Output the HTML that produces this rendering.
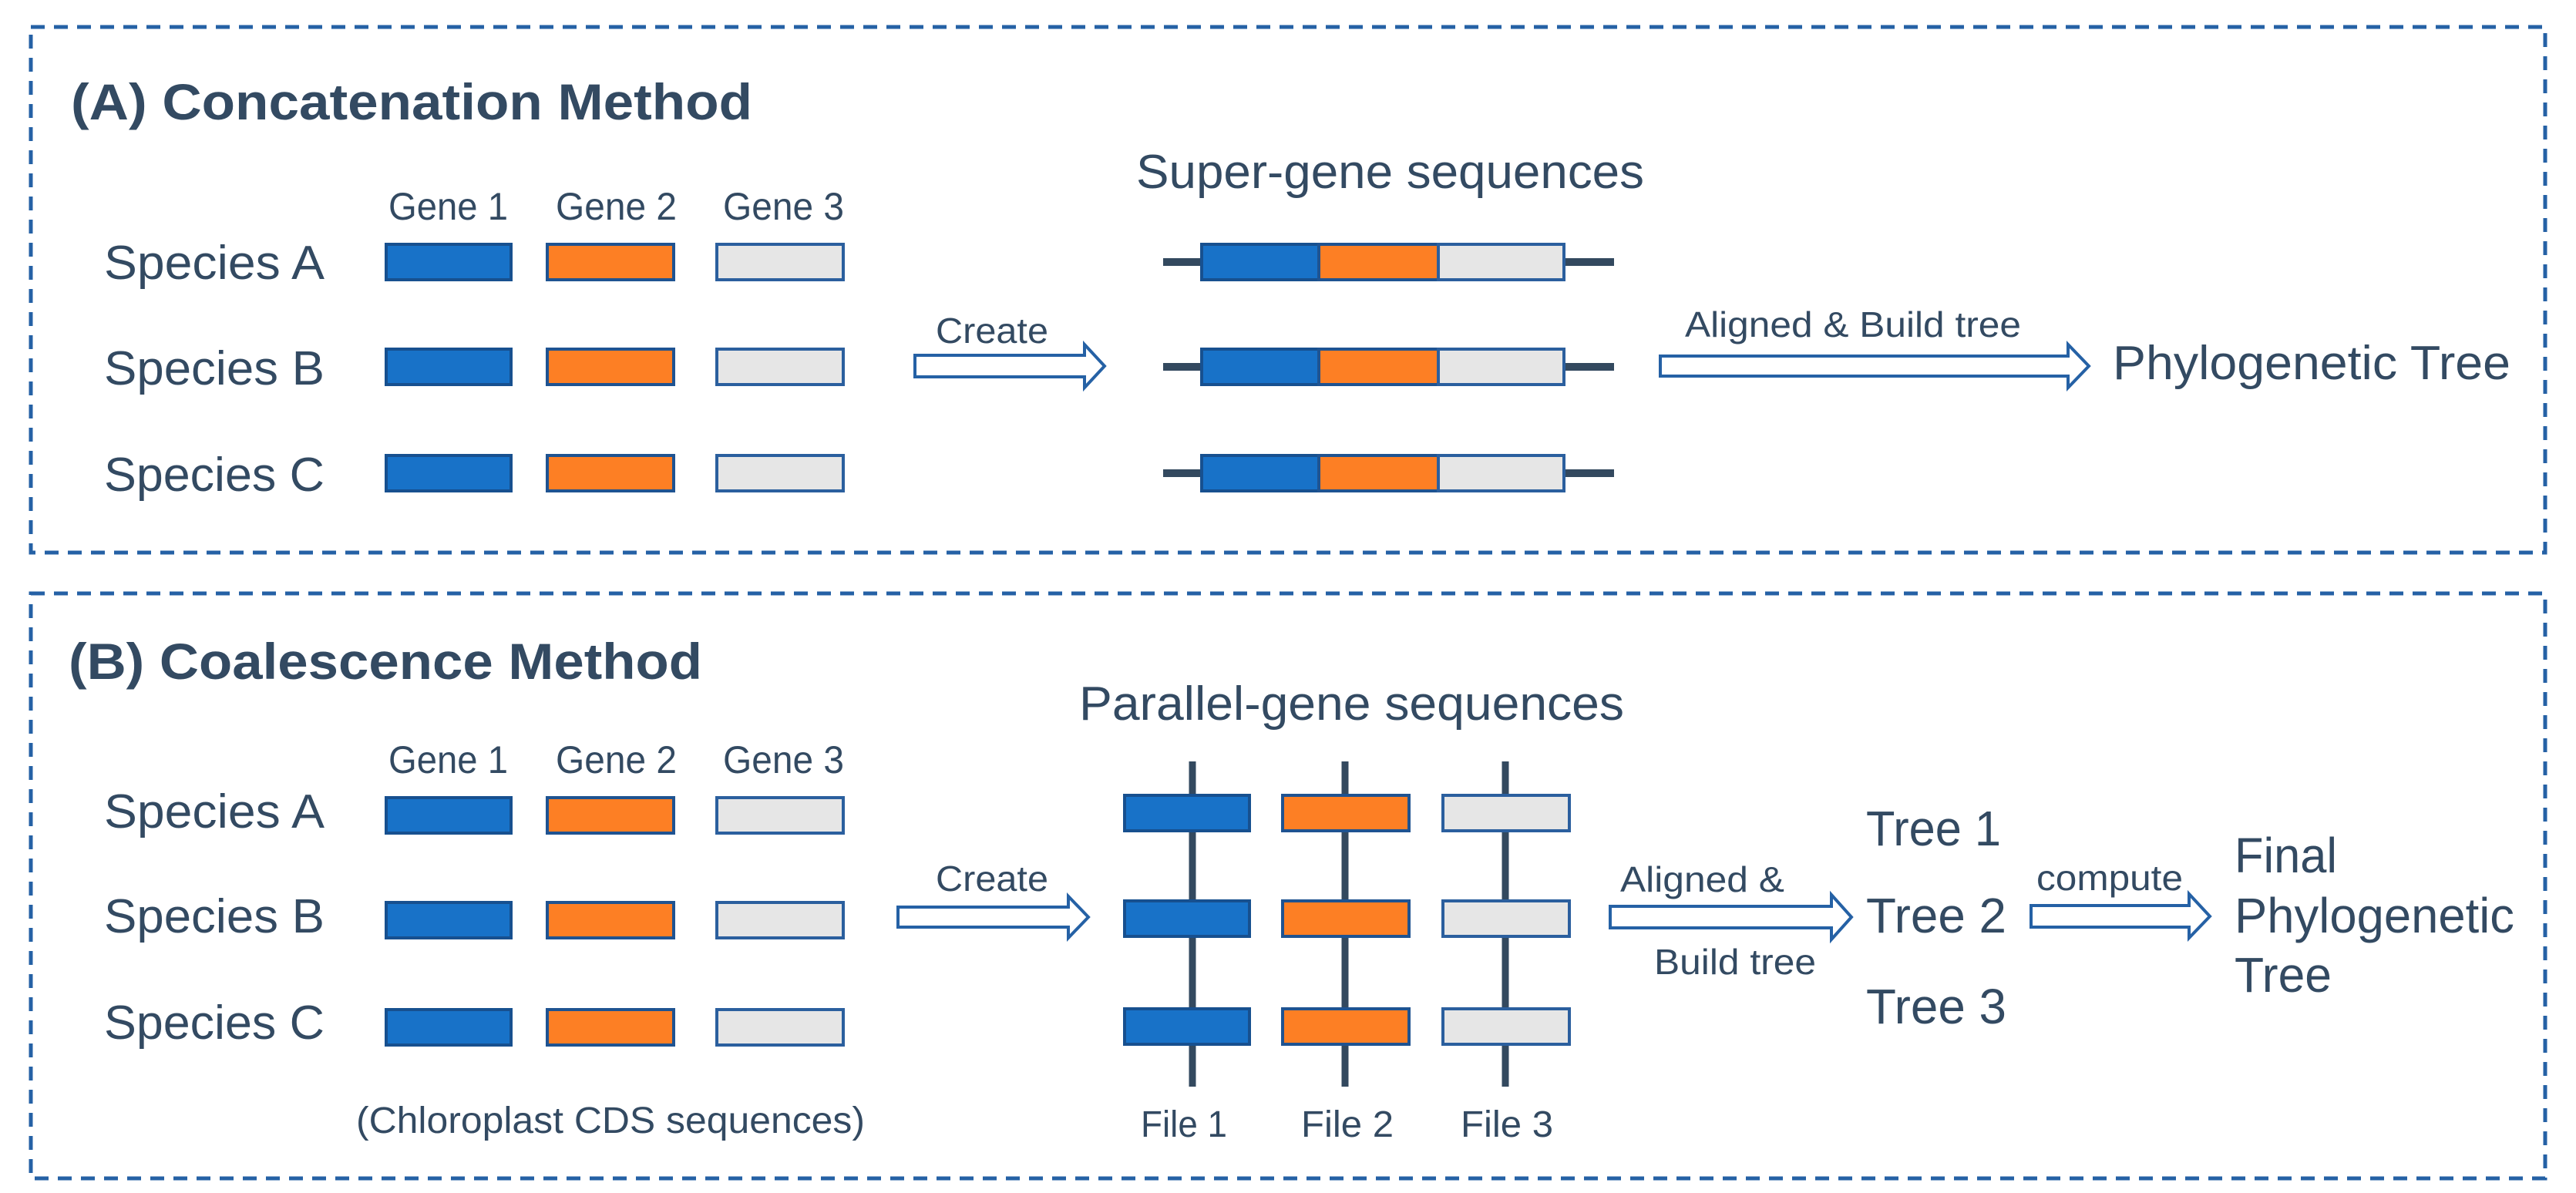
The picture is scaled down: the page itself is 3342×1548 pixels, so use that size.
<!DOCTYPE html>
<html><head><meta charset="utf-8"><style>
html,body{margin:0;padding:0;background:#fff}
svg{display:block}
text{font-family:"Liberation Sans",Arial,sans-serif;fill:#334a62}
</style></head><body>
<svg width="3342" height="1548" viewBox="0 0 3342 1548" xmlns="http://www.w3.org/2000/svg">
<defs>
<g id="blue"><rect x="0" y="0" width="162" height="46" fill="#1872c8" stroke="#17508f" stroke-width="4"/></g>
<g id="orange"><rect x="0" y="0" width="164" height="46" fill="#fd7f24" stroke="#1f5391" stroke-width="4"/></g>
<g id="grey"><rect x="0" y="0" width="164" height="46" fill="#e6e6e6" stroke="#2b5f9e" stroke-width="4"/></g>
</defs>
<!-- boxes -->
<rect x="40" y="35" width="3262" height="682" fill="none" stroke="#2561a5" stroke-width="5" stroke-dasharray="18,12"/>
<rect x="40" y="770" width="3262" height="759" fill="none" stroke="#2561a5" stroke-width="5" stroke-dasharray="18,12"/>

<!-- A -->
<text x="92" y="155" font-size="66" font-weight="bold" textLength="884" lengthAdjust="spacingAndGlyphs">(A) Concatenation Method</text>
<text x="504" y="285" font-size="50" textLength="155" lengthAdjust="spacingAndGlyphs">Gene 1</text>
<text x="721" y="285" font-size="50" textLength="157" lengthAdjust="spacingAndGlyphs">Gene 2</text>
<text x="938" y="285" font-size="50" textLength="157" lengthAdjust="spacingAndGlyphs">Gene 3</text>
<text x="135" y="362" font-size="62" textLength="286" lengthAdjust="spacingAndGlyphs">Species A</text>
<text x="135" y="499" font-size="62" textLength="286" lengthAdjust="spacingAndGlyphs">Species B</text>
<text x="135" y="637" font-size="62" textLength="286" lengthAdjust="spacingAndGlyphs">Species C</text>
<use href="#blue" x="501" y="317"/><use href="#orange" x="710" y="317"/><use href="#grey" x="930" y="317"/>
<use href="#blue" x="501" y="453"/><use href="#orange" x="710" y="453"/><use href="#grey" x="930" y="453"/>
<use href="#blue" x="501" y="591"/><use href="#orange" x="710" y="591"/><use href="#grey" x="930" y="591"/>

<text x="1214" y="445" font-size="46" textLength="146" lengthAdjust="spacingAndGlyphs">Create</text>
<path d="M1187,461 H1407 V447 L1433,475 L1407,503 V489 H1187 Z" fill="#fff" stroke="#2561a5" stroke-width="4"/>

<text x="1474" y="244" font-size="62" textLength="659" lengthAdjust="spacingAndGlyphs">Super-gene sequences</text>
<g>
<line x1="1509" y1="340" x2="2094" y2="340" stroke="#33495f" stroke-width="10"/>
<line x1="1509" y1="476" x2="2094" y2="476" stroke="#33495f" stroke-width="10"/>
<line x1="1509" y1="614" x2="2094" y2="614" stroke="#33495f" stroke-width="10"/>
</g>
<g>
<rect x="1559" y="317" width="152" height="46" fill="#1872c8" stroke="#17508f" stroke-width="4"/>
<rect x="1711" y="317" width="155" height="46" fill="#fd7f24" stroke="#1f5391" stroke-width="4"/>
<rect x="1866" y="317" width="163" height="46" fill="#e6e6e6" stroke="#2b5f9e" stroke-width="4"/>
<rect x="1559" y="453" width="152" height="46" fill="#1872c8" stroke="#17508f" stroke-width="4"/>
<rect x="1711" y="453" width="155" height="46" fill="#fd7f24" stroke="#1f5391" stroke-width="4"/>
<rect x="1866" y="453" width="163" height="46" fill="#e6e6e6" stroke="#2b5f9e" stroke-width="4"/>
<rect x="1559" y="591" width="152" height="46" fill="#1872c8" stroke="#17508f" stroke-width="4"/>
<rect x="1711" y="591" width="155" height="46" fill="#fd7f24" stroke="#1f5391" stroke-width="4"/>
<rect x="1866" y="591" width="163" height="46" fill="#e6e6e6" stroke="#2b5f9e" stroke-width="4"/>
</g>
<text x="2186" y="437" font-size="46" textLength="436" lengthAdjust="spacingAndGlyphs">Aligned &amp; Build tree</text>
<path d="M2154,462 H2683 V447 L2710,475 L2683,503 V488 H2154 Z" fill="#fff" stroke="#2561a5" stroke-width="4"/>
<text x="2741" y="492" font-size="62" textLength="516" lengthAdjust="spacingAndGlyphs">Phylogenetic Tree</text>

<!-- B -->
<text x="89" y="881" font-size="66" font-weight="bold" textLength="822" lengthAdjust="spacingAndGlyphs">(B) Coalescence Method</text>
<text x="504" y="1003" font-size="50" textLength="155" lengthAdjust="spacingAndGlyphs">Gene 1</text>
<text x="721" y="1003" font-size="50" textLength="157" lengthAdjust="spacingAndGlyphs">Gene 2</text>
<text x="938" y="1003" font-size="50" textLength="157" lengthAdjust="spacingAndGlyphs">Gene 3</text>
<text x="135" y="1074" font-size="62" textLength="286" lengthAdjust="spacingAndGlyphs">Species A</text>
<text x="135" y="1210" font-size="62" textLength="286" lengthAdjust="spacingAndGlyphs">Species B</text>
<text x="135" y="1348" font-size="62" textLength="286" lengthAdjust="spacingAndGlyphs">Species C</text>
<use href="#blue" x="501" y="1035"/><use href="#orange" x="710" y="1035"/><use href="#grey" x="930" y="1035"/>
<use href="#blue" x="501" y="1171"/><use href="#orange" x="710" y="1171"/><use href="#grey" x="930" y="1171"/>
<use href="#blue" x="501" y="1310"/><use href="#orange" x="710" y="1310"/><use href="#grey" x="930" y="1310"/>
<text x="462" y="1470" font-size="48" textLength="660" lengthAdjust="spacingAndGlyphs">(Chloroplast CDS sequences)</text>

<text x="1214" y="1156" font-size="46" textLength="146" lengthAdjust="spacingAndGlyphs">Create</text>
<path d="M1165,1177 H1386 V1163 L1412,1190 L1386,1217 V1203 H1165 Z" fill="#fff" stroke="#2561a5" stroke-width="4"/>

<text x="1400" y="934" font-size="62" textLength="707" lengthAdjust="spacingAndGlyphs">Parallel-gene sequences</text>
<g stroke="#33495f" stroke-width="9">
<line x1="1547" y1="988" x2="1547" y2="1410"/>
<line x1="1745" y1="988" x2="1745" y2="1410"/>
<line x1="1953" y1="988" x2="1953" y2="1410"/>
</g>
<use href="#blue" x="1459" y="1032"/><use href="#orange" x="1664" y="1032"/><use href="#grey" x="1872" y="1032"/>
<use href="#blue" x="1459" y="1169"/><use href="#orange" x="1664" y="1169"/><use href="#grey" x="1872" y="1169"/>
<use href="#blue" x="1459" y="1309"/><use href="#orange" x="1664" y="1309"/><use href="#grey" x="1872" y="1309"/>
<text x="1480" y="1475" font-size="48" textLength="112" lengthAdjust="spacingAndGlyphs">File 1</text>
<text x="1688" y="1475" font-size="48" textLength="120" lengthAdjust="spacingAndGlyphs">File 2</text>
<text x="1895" y="1475" font-size="48" textLength="120" lengthAdjust="spacingAndGlyphs">File 3</text>

<text x="2102" y="1157" font-size="46" textLength="213" lengthAdjust="spacingAndGlyphs">Aligned &amp;</text>
<text x="2146" y="1264" font-size="46" textLength="210" lengthAdjust="spacingAndGlyphs">Build tree</text>
<path d="M2089,1176 H2376 V1161 L2402,1190 L2376,1219 V1204 H2089 Z" fill="#fff" stroke="#2561a5" stroke-width="4"/>

<text x="2421" y="1097" font-size="64" textLength="175" lengthAdjust="spacingAndGlyphs">Tree 1</text>
<text x="2421" y="1210" font-size="64" textLength="182" lengthAdjust="spacingAndGlyphs">Tree 2</text>
<text x="2421" y="1328" font-size="64" textLength="182" lengthAdjust="spacingAndGlyphs">Tree 3</text>

<text x="2642" y="1155" font-size="46" textLength="190" lengthAdjust="spacingAndGlyphs">compute</text>
<path d="M2635,1175 H2840 V1160 L2867,1189 L2840,1217 V1203 H2635 Z" fill="#fff" stroke="#2561a5" stroke-width="4"/>

<text x="2899" y="1132" font-size="64" textLength="133" lengthAdjust="spacingAndGlyphs">Final</text>
<text x="2899" y="1210" font-size="64" textLength="363" lengthAdjust="spacingAndGlyphs">Phylogenetic</text>
<text x="2899" y="1287" font-size="64" textLength="126" lengthAdjust="spacingAndGlyphs">Tree</text>
</svg>
</body></html>
